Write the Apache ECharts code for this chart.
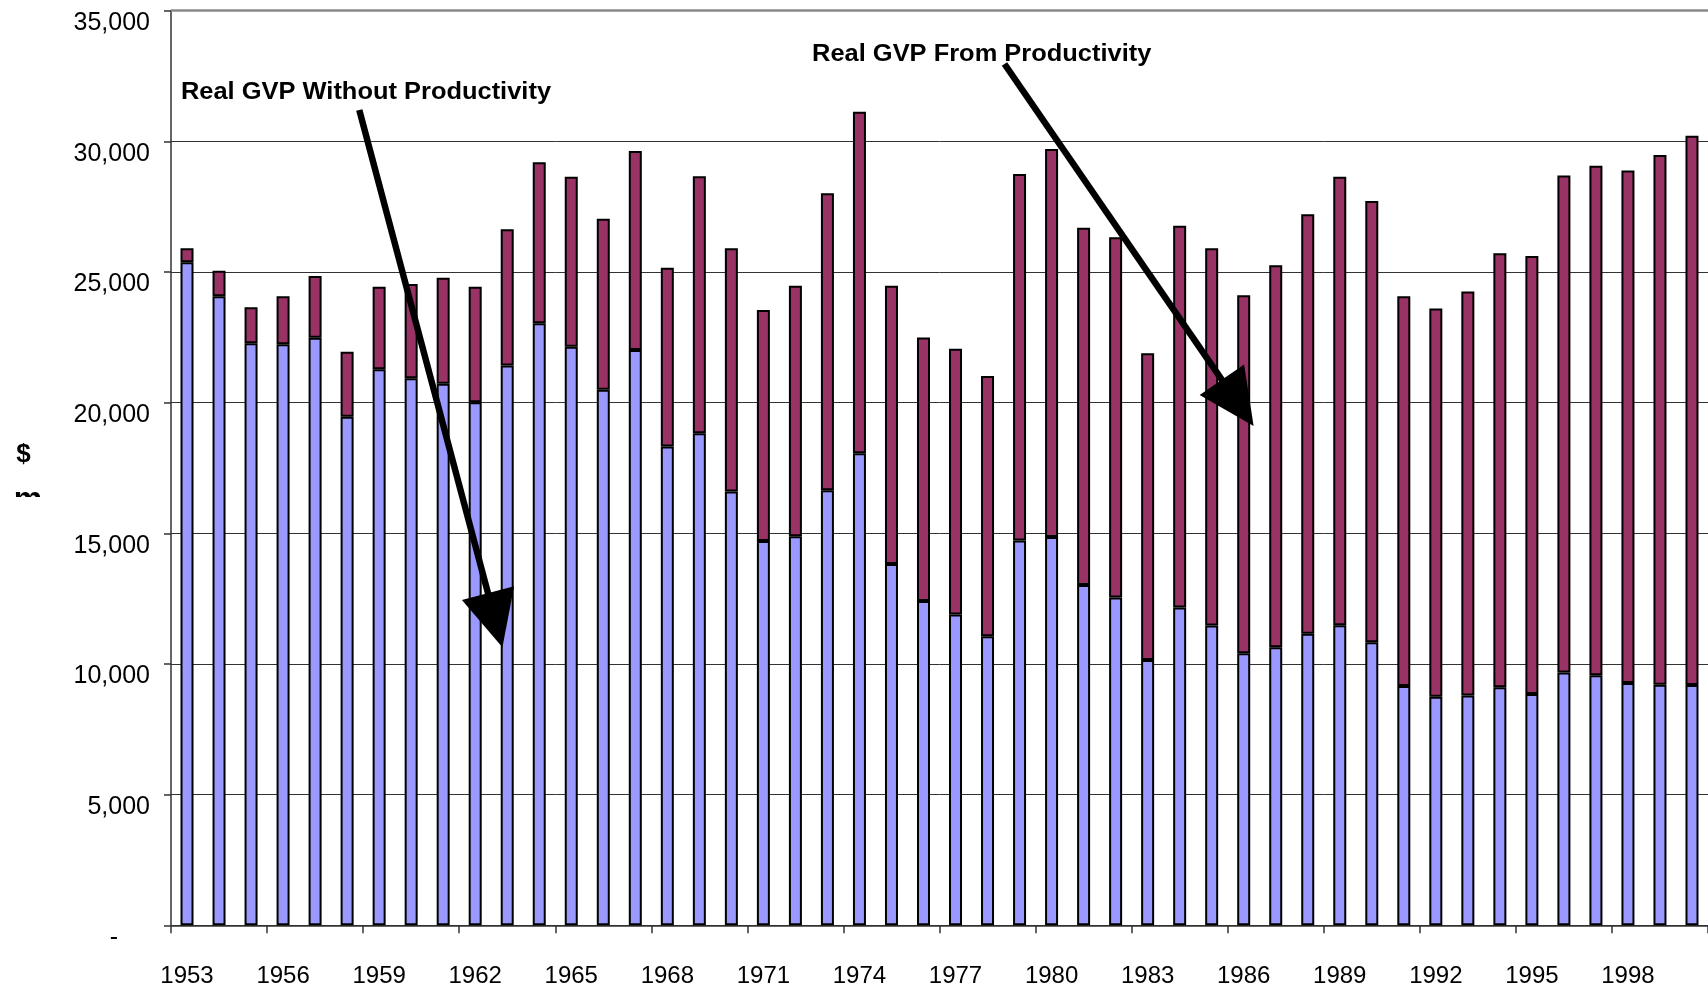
<!DOCTYPE html>
<html>
<head>
<meta charset="utf-8">
<script src="https://cdn.jsdelivr.net/npm/echarts@6/dist/echarts.min.js"></script>
<style>
html,body{margin:0;padding:0;background:#fff;}
#c{width:1708px;height:990px;}
</style>
</head>
<body>
<div id="c"></div>
<script>
// ---- data ----
const years = ['1953','1954','1955','1956','1957','1958','1959','1960','1961','1962',
  '1963','1964','1965','1966','1967','1968','1969','1970','1971','1972',
  '1973','1974','1975','1976','1977','1978','1979','1980','1981','1982',
  '1983','1984','1985','1986','1987','1988','1989','1990','1991','1992',
  '1993','1994','1995','1996','1997','1998','1999','2000'];

// Real GVP without productivity (lower, blue segment)
const gvpWithoutProductivity = [25370,24070,22270,22240,22480,19460,21280,20930,20720,20020,
  21420,23040,22140,20490,22020,18320,18830,16600,14710,14890,
  16650,18060,13830,12410,11890,11060,14730,14860,13020,12540,
  10150,12160,11470,10410,10640,11160,11480,10830,9160,8750,
  8790,9110,8850,9670,9570,9270,9210,9200];

// Total real GVP (top of each stacked bar)
const gvpTotal = [25910,25050,23650,24070,24850,21950,24440,24540,24780,24440,
  26640,29200,28650,27040,29630,25160,28660,25910,23550,24470,
  28010,31130,24470,22490,22060,21020,28750,29710,26690,26330,
  21890,26770,25910,24110,25260,27210,28650,27720,24070,23600,
  24250,25720,25610,28690,29070,28880,29480,30210];

const yMin = 0, yMax = 35000, yStep = 5000;

// annotations: [category position, value] anchors
const annotations = [
  { label: 'Real GVP Without Productivity', textAt: [-0.19, 31890], from: [5.38, 31200], to: [9.85, 10640] },
  { label: 'Real GVP From Productivity',    textAt: [19.52, 33340], from: [25.53, 32960], to: [33.31, 19110] }
];

// derived series
const gvpFromProductivity = gvpTotal.map((t, i) => t - gvpWithoutProductivity[i]);

const FONT = "'Liberation Sans', Arial, Helvetica, sans-serif";
const chart = echarts.init(document.getElementById('c'), null, { renderer: 'canvas' });

const option = {
  animation: false,
  backgroundColor: '#fff',
  grid: { left: 171, top: 10.7, width: 1543.5, bottom: 64.7, containLabel: false },
  xAxis: {
    type: 'category',
    data: years,
    boundaryGap: true,
    axisLine: { lineStyle: { color: '#333', width: 1.5 } },
    axisTick: { show: true, interval: 2, length: 8, lineStyle: { color: '#333', width: 1.5 } },
    axisLabel: { interval: 2, margin: 39, color: '#000', fontSize: 24, fontFamily: FONT },
    splitLine: { show: false }
  },
  yAxis: {
    type: 'value',
    min: yMin, max: yMax, interval: yStep,
    axisLine: { show: true, lineStyle: { color: '#333', width: 1.5 } },
    axisTick: { show: true, length: 7, lineStyle: { color: '#333', width: 1.5 } },
    axisLabel: {
      margin: 21, color: '#000', fontSize: 25, fontFamily: FONT, verticalAlign: 'top',
      formatter: v => v === 0 ? '{z|-}' : v.toLocaleString('en-US'),
      rich: { z: { fontSize: 25, fontFamily: FONT, color: '#000', padding: [0, 32, 0, 0] } }
    },
    splitLine: { show: true, lineStyle: { color: '#333', width: 1 } }
  },
  series: [
    {
      name: 'Real GVP Without Productivity',
      type: 'bar', stack: 'gvp', barWidth: 13,
      data: gvpWithoutProductivity,
      itemStyle: { color: '#9999FF', borderColor: '#000', borderWidth: 2 },
      markLine: {
        silent: true, symbol: 'none', label: { show: false },
        lineStyle: { color: '#888', width: 2.5, type: 'solid' },
        data: [{ yAxis: yMax }]
      }
    },
    {
      name: 'Real GVP From Productivity',
      type: 'bar', stack: 'gvp', barWidth: 13,
      data: gvpFromProductivity,
      itemStyle: { color: '#993366', borderColor: '#000', borderWidth: 2 }
    }
  ]
};
chart.setOption(option);

function toPx(c, v) {
  const a = chart.convertToPixel({ gridIndex: 0 }, [0, v]);
  const b = chart.convertToPixel({ gridIndex: 0 }, [1, v]);
  return [a[0] + c * (b[0] - a[0]), a[1]];
}

const graphics = [];
annotations.forEach(an => {
  const t = toPx(an.textAt[0], an.textAt[1]);
  graphics.push({
    type: 'text', x: t[0], y: t[1], scaleX: 1.06, z: 100,
    style: { text: an.label, fontSize: 24, fontWeight: 'bold', fontFamily: FONT, fill: '#000', align: 'left', verticalAlign: 'middle' }
  });
  const S = toPx(an.from[0], an.from[1]);
  const T = toPx(an.to[0], an.to[1]);
  const dx = T[0] - S[0], dy = T[1] - S[1];
  const L = Math.hypot(dx, dy);
  const ux = dx / L, uy = dy / L;
  const headLen = 56, headHalf = 27;
  const Bx = T[0] - ux * headLen, By = T[1] - uy * headLen;
  const nx = -uy, ny = ux;
  graphics.push({
    type: 'line', z: 100,
    shape: { x1: S[0], y1: S[1], x2: Bx + ux * 4, y2: By + uy * 4 },
    style: { stroke: '#000', lineWidth: 6.5 }
  });
  graphics.push({
    type: 'polygon', z: 100,
    shape: { points: [[T[0], T[1]], [Bx + nx * headHalf, By + ny * headHalf], [Bx - nx * headHalf, By - ny * headHalf]] },
    style: { fill: '#000' }
  });
});

// axis title "$" (with clipped second line as in the original)
graphics.push({
  type: 'text', x: 23.5, y: 455, z: 100,
  style: { text: '$', fontSize: 26, fontWeight: 'bold', fontFamily: FONT, fill: '#000', align: 'center', verticalAlign: 'middle' }
});
graphics.push({
  type: 'text', x: 28, y: 500, z: 100,
  style: { text: 'm', fontSize: 32, fontWeight: 'bold', fontFamily: FONT, fill: '#000', align: 'center', verticalAlign: 'middle' }
});
graphics.push({
  type: 'rect', z: 101, shape: { x: 0, y: 497, width: 60, height: 40 }, style: { fill: '#fff' }
});

chart.setOption({ graphic: graphics });
</script>
</body>
</html>
